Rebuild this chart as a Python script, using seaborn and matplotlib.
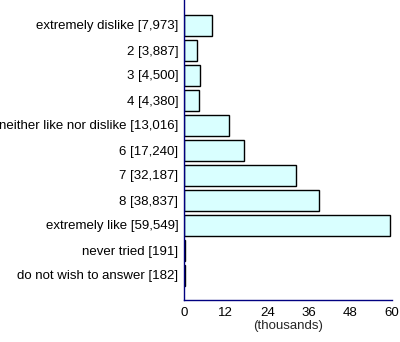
import matplotlib
matplotlib.use("Agg")
import matplotlib.pyplot as plt
import seaborn as sns
import pandas as pd

categories = ["extremely dislike", "2", "3", "4", "neither like nor dislike", "6", "7", "8",
              "extremely like", "never tried", "do not wish to answer"]
counts = [7973, 3887, 4500, 4380, 13016, 17240, 32187, 38837, 59549, 191, 182]
xticks = [0, 12, 24, 36, 48, 60]

labels = [f"{c} [{v:,}]" for c, v in zip(categories, counts)]
df = pd.DataFrame({"label": labels, "thousands": [v / 1000 for v in counts]})

sns.set_style("white")
plt.rcParams["font.family"] = ["Liberation Sans", "DejaVu Sans"]

fig = plt.figure(figsize=(4.0, 3.42), dpi=100)
ax = fig.add_axes([184 / 400, 42 / 342, 208 / 400, 300 / 342])
navy = "#000080"

sns.barplot(data=df, x="thousands", y="label", orient="h", color="#D9FFFF",
            edgecolor="black", linewidth=1.0, width=0.84, saturation=1, ax=ax)

fs = 9.5
ax.set_xlim(0, 60)
ax.set_ylim(11, -1)
ax.set_xticks(xticks)
ax.set_xticklabels([str(t) for t in xticks], fontsize=fs)
ax.set_yticks(range(len(labels)))
ax.set_yticklabels(labels, fontsize=fs)
ax.set_xlabel("(thousands)", fontsize=fs, labelpad=1)
ax.set_ylabel("")

for s in ["top", "right"]:
    ax.spines[s].set_visible(False)
for s in ["left", "bottom"]:
    ax.spines[s].set_color(navy)
    ax.spines[s].set_linewidth(1.0)
ax.tick_params(axis="both", colors=navy, labelcolor="black", direction="out",
               length=3, width=1, pad=1)
ax.tick_params(axis="x", length=4)

fig.savefig("out.png", dpi=100)
